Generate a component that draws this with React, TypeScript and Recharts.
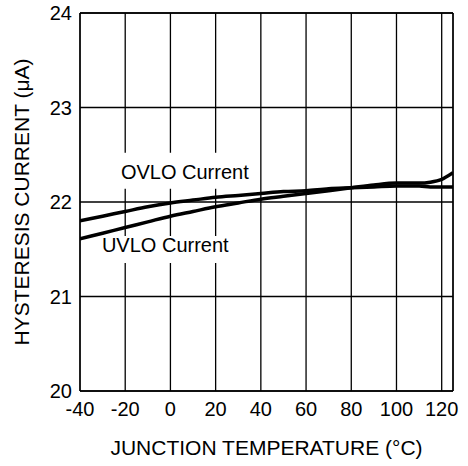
import { LineChart, Line, XAxis, YAxis, CartesianGrid, ReferenceLine, ReferenceDot, Label } from "recharts"

const temps = [-40, -30, -20, -10, 0, 10, 20, 30, 40, 50, 60, 70, 80, 90, 100, 110, 115, 120, 125]
const ovlo = [21.8, 21.85, 21.9, 21.95, 21.99, 22.02, 22.05, 22.07, 22.09, 22.11, 22.12, 22.14, 22.15, 22.16, 22.17, 22.17, 22.16, 22.16, 22.16]
const uvlo = [21.61, 21.67, 21.73, 21.79, 21.85, 21.9, 21.95, 21.99, 22.03, 22.06, 22.09, 22.12, 22.15, 22.18, 22.2, 22.2, 22.21, 22.24, 22.31]
const xTicks = [-40, -20, 0, 20, 40, 60, 80, 100, 120]
const yTicks = [20, 21, 22, 23, 24]

const data = temps.map((t, i) => ({ temp: t, ovlo: ovlo[i], uvlo: uvlo[i] }))

const font = "'Liberation Sans', Arial, sans-serif"

// white box behind the curve names, breaks the grid lines like the original
const TextTag = (text: string, top: number, bottom: number) => (props: any) => {
  const { cx, cy } = props
  return (
    <g>
      <rect x={cx + 2} y={cy - top} width={132} height={top + bottom} fill="#fff" />
      <text x={cx} y={cy} dy="0.35em" fontSize={20} fontFamily={font} fill="#000">
        {text}
      </text>
    </g>
  )
}

export default function App() {
  return (
    <div style={{ position: "absolute", left: 0, top: 0, background: "#fff" }}>
      <LineChart width={468} height={466} data={data} margin={{ top: 13, right: 15, left: 0, bottom: 0 }}>
        <CartesianGrid stroke="#000" strokeWidth={1.3} />
        <XAxis
          dataKey="temp"
          type="number"
          domain={[-40, 125]}
          ticks={xTicks}
          allowDataOverflow
          height={75}
          tickLine={false}
          tickMargin={5}
          axisLine={{ stroke: "#000", strokeWidth: 1.3 }}
          tick={{ fill: "#000", fontSize: 20, fontFamily: font }}
        >
          <Label value="JUNCTION TEMPERATURE (°C)" position="insideBottom" offset={11} fill="#000" fontSize={21} fontFamily={font} />
        </XAxis>
        <YAxis
          type="number"
          domain={[20, 24]}
          ticks={yTicks}
          width={80}
          tickLine={false}
          tickMargin={2}
          axisLine={{ stroke: "#000", strokeWidth: 1.3 }}
          tick={{ fill: "#000", fontSize: 20, fontFamily: font }}
        >
          <Label value="HYSTERESIS CURRENT (μA)" angle={-90} position="insideLeft" offset={22} style={{ textAnchor: "middle" }} fill="#000" fontSize={21} fontFamily={font} />
        </YAxis>
        <ReferenceLine x={125} stroke="#000" strokeWidth={1.3} />
        <ReferenceLine y={24} stroke="#000" strokeWidth={1.3} />
        <ReferenceDot x={-21.9} y={22.32} r={0} shape={TextTag("OVLO Current", 19, 17)} />
        <ReferenceDot x={-30.3} y={21.545} r={0} shape={TextTag("UVLO Current", 9, 18)} />
        <Line type="monotone" dataKey="ovlo" stroke="#000" strokeWidth={3.5} dot={false} isAnimationActive={false} />
        <Line type="monotone" dataKey="uvlo" stroke="#000" strokeWidth={3.5} dot={false} isAnimationActive={false} />
      </LineChart>
    </div>
  )
}
